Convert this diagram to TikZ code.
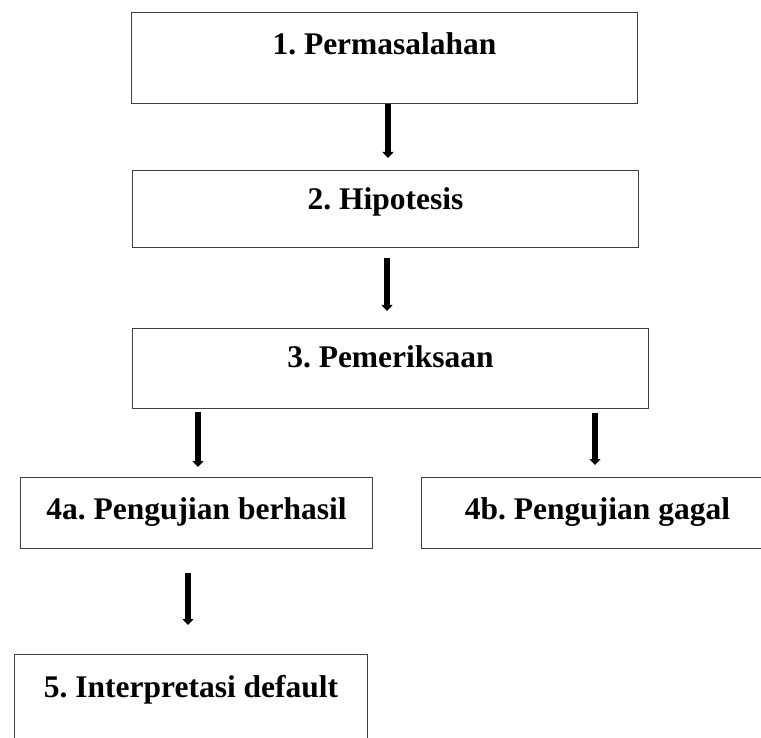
\documentclass[tikz,border=0pt]{standalone}
\usepackage{fontspec}
\setmainfont{Liberation Serif}
\usetikzlibrary{arrows.meta}
\frenchspacing
\begin{document}
\begin{tikzpicture}[x=1pt,y=-1pt,
  box/.style={draw=black!75, line width=1pt, inner sep=0pt, anchor=north west,
    font=\fontsize{31.5}{36}\selectfont\bfseries\frenchspacing},
  arr/.style={line width=5.5pt, -{Triangle[width=11pt,length=6pt]}}]
\useasboundingbox (0,0) rectangle (761,738);
\node[box, minimum width=506pt, text height=42pt, text depth=49pt] (b1) at (131,12) {1. Permasalahan};
\node[box, minimum width=506pt, text height=39pt, text depth=38pt] (b2) at (132,170) {2. Hipotesis};
\node[box, minimum width=516pt, text height=39pt, text depth=41pt] (b3) at (132,328) {3. Pemeriksaan};
\node[box, minimum width=352pt, text height=42pt, text depth=29pt] (b4a) at (20,477) {4a. Pengujian berhasil};
\node[box, minimum width=352pt, text height=42pt, text depth=29pt] (b4b) at (421,477) {4b. Pengujian gagal};
\node[box, minimum width=353pt, text height=43pt, text depth=60pt] (b5) at (14,654) {5. Interpretasi default};
\draw[arr, shorten >=12pt] (b1.south -| 388,0) -- (b2.north -| 388,0);
\draw[arr, shorten <=10pt, shorten >=17pt] (b2.south -| 387,0) -- (b3.north -| 387,0);
\draw[arr, shorten <=3pt, shorten >=10pt] (b3.south -| 198,0) -- (b4a.north -| 198,0);
\draw[arr, shorten <=4pt, shorten >=12pt] (b3.south -| 595,0) -- (b4b.north -| 595,0);
\draw[arr, shorten <=24pt, shorten >=29pt] (b4a.south -| 188,0) -- (b5.north -| 188,0);
\end{tikzpicture}
\end{document}
